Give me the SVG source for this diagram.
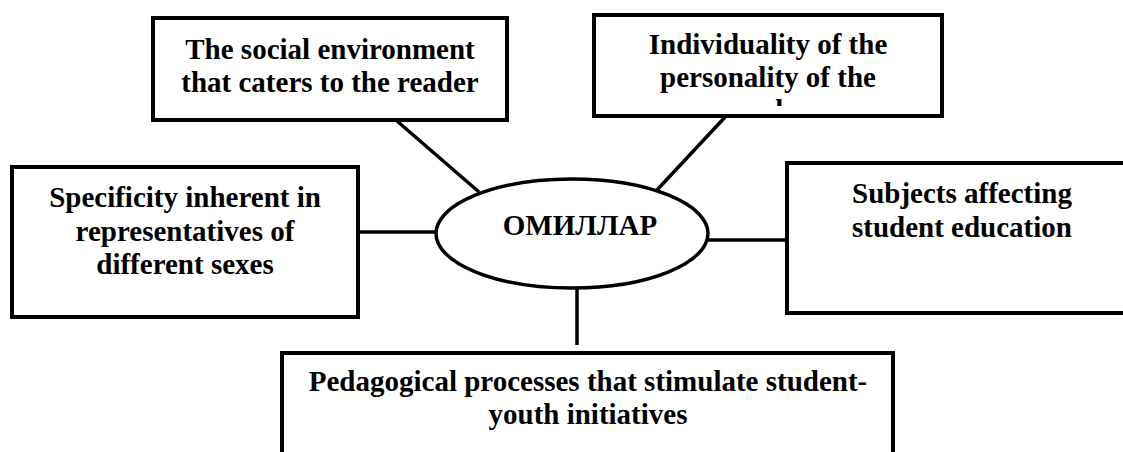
<svg xmlns="http://www.w3.org/2000/svg" width="1123" height="452" viewBox="0 0 1123 452" font-family="'Liberation Serif', 'DejaVu Serif', serif">
  <style>
    .box { fill: #fff; stroke: #000; stroke-width: 4; }
    .hub { fill: #fff; stroke: #000; stroke-width: 3.5; }
    .link { stroke: #000; stroke-width: 3.5; fill: none; }
    .lbl { font-weight: bold; font-size: 29px; fill: #000; }
    .c { text-anchor: middle; }
  </style>
  <defs>
    <!-- the third line of this box is cut off by the frame -->
    <clipPath id="clipIndividuality">
      <rect x="594" y="15" width="348" height="91"/>
    </clipPath>
  </defs>
  <rect width="1123" height="452" fill="#fff"/>

  <g id="connectors">
    <line class="link" x1="397" y1="121" x2="479" y2="192"/>
    <line class="link" x1="727" y1="115" x2="657" y2="190"/>
    <line class="link" x1="358" y1="232" x2="437" y2="232"/>
    <line class="link" x1="708" y1="240" x2="787" y2="240"/>
    <line class="link" x1="577" y1="288" x2="577" y2="345"/>
  </g>

  <g id="node-social-environment">
    <rect class="box" x="153" y="18" width="354" height="102"/>
    <text class="lbl c" x="330" y="59">The social environment</text>
    <text class="lbl c" x="330" y="92">that caters to the reader</text>
  </g>

  <g id="node-individuality">
    <rect class="box" x="594" y="15" width="348" height="101"/>
    <g clip-path="url(#clipIndividuality)">
      <text class="lbl c" x="768" y="54">Individuality of the</text>
      <text class="lbl c" x="768" y="87">personality of the</text>
      <text class="lbl c" x="768" y="120">reader</text>
    </g>
  </g>

  <g id="node-specificity">
    <rect class="box" x="12" y="167" width="346" height="150"/>
    <text class="lbl c" x="185" y="207">Specificity inherent in</text>
    <text class="lbl c" x="185" y="241">representatives of</text>
    <text class="lbl c" x="185" y="274">different sexes</text>
  </g>

  <g id="node-factors">
    <ellipse class="hub" cx="572" cy="233.5" rx="136" ry="54.5"/>
    <text class="lbl c" x="580" y="235">ОМИЛЛАР</text>
  </g>

  <g id="node-subjects">
    <rect class="box" x="787" y="163" width="350" height="150"/>
    <text class="lbl" x="852" y="203">Subjects affecting</text>
    <text class="lbl" x="852" y="237">student education</text>
  </g>

  <g id="node-pedagogical">
    <rect class="box" x="282" y="353" width="611" height="110"/>
    <text class="lbl c" x="588" y="391">Pedagogical processes that stimulate student-</text>
    <text class="lbl c" x="588" y="424">youth initiatives</text>
  </g>
</svg>
